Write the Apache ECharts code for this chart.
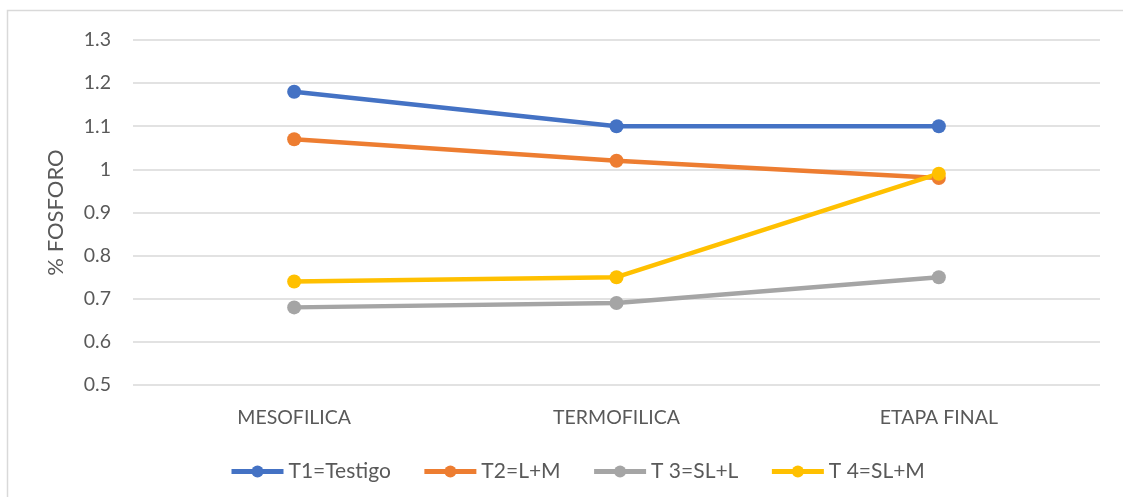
<!DOCTYPE html>
<html>
<head>
<meta charset="utf-8">
<script src="https://cdn.jsdelivr.net/npm/echarts@6/dist/echarts.min.js"></script>
<style>
  html, body { margin: 0; padding: 0; background: #ffffff; }
  #chart { width: 1123px; height: 497px; }
</style>
</head>
<body>
<div id="chart"></div>
<script>
// Phosphorus content (%) per composting stage and treatment
const stages = ['MESOFILICA', 'TERMOFILICA', 'ETAPA FINAL'];
const seriesNames = ['T1=Testigo', 'T2=L+M', 'T 3=SL+L', 'T 4=SL+M'];
const t1 = [1.18, 1.10, 1.10];
const t2 = [1.07, 1.02, 0.98];
const t3 = [0.68, 0.69, 0.75];
const t4 = [0.74, 0.75, 0.99];
const seriesColors = ['#4472C4', '#ED7D31', '#A5A5A5', '#FFC000'];

const font = 'Lato, Open Sans, sans-serif';
const textColor = '#595959';

const chart = echarts.init(document.getElementById('chart'));
const makeLine = (name, data, color) => ({
  name: name,
  type: 'line',
  data: data,
  symbol: 'circle',
  symbolSize: 14,
  lineStyle: { width: 4.5, color: color },
  itemStyle: { color: color },
  emphasis: { disabled: true }
});

chart.setOption({
  animation: false,
  graphic: [{
    type: 'rect',
    shape: { x: 7.5, y: 10.5, width: 1300, height: 700 },
    style: { fill: 'none', stroke: '#d9d9d9', lineWidth: 1.5 },
    silent: true
  }],
  grid: { left: 133, right: 23, top: 40, bottom: 112 },
  legend: {
    top: 461,
    left: 229,
    padding: 0,
    itemWidth: 52,
    itemHeight: 15,
    itemGap: 31,
    lineStyle: { width: 5 },
    textStyle: { fontFamily: font, fontSize: 21, color: textColor },
    data: seriesNames
  },
  xAxis: {
    type: 'category',
    data: stages,
    boundaryGap: true,
    axisLine: { show: false },
    axisTick: { show: false },
    axisLabel: { fontFamily: font, fontSize: 19.5, color: textColor, margin: 23 }
  },
  yAxis: {
    type: 'value',
    min: 0.5,
    max: 1.3,
    interval: 0.1,
    name: '% FOSFORO',
    nameLocation: 'middle',
    nameGap: 66,
    nameTextStyle: { fontFamily: font, fontSize: 22, color: textColor },
    axisLine: { show: false },
    axisTick: { show: false },
    axisLabel: {
      fontFamily: font, fontSize: 19.5, color: textColor, margin: 22,
      formatter: v => String(Math.round(v * 10) / 10)
    },
    splitLine: { lineStyle: { color: '#d9d9d9', width: 1.5 } }
  },
  series: [
    makeLine(seriesNames[0], t1, seriesColors[0]),
    makeLine(seriesNames[1], t2, seriesColors[1]),
    makeLine(seriesNames[2], t3, seriesColors[2]),
    makeLine(seriesNames[3], t4, seriesColors[3])
  ]
});
</script>
</body>
</html>
